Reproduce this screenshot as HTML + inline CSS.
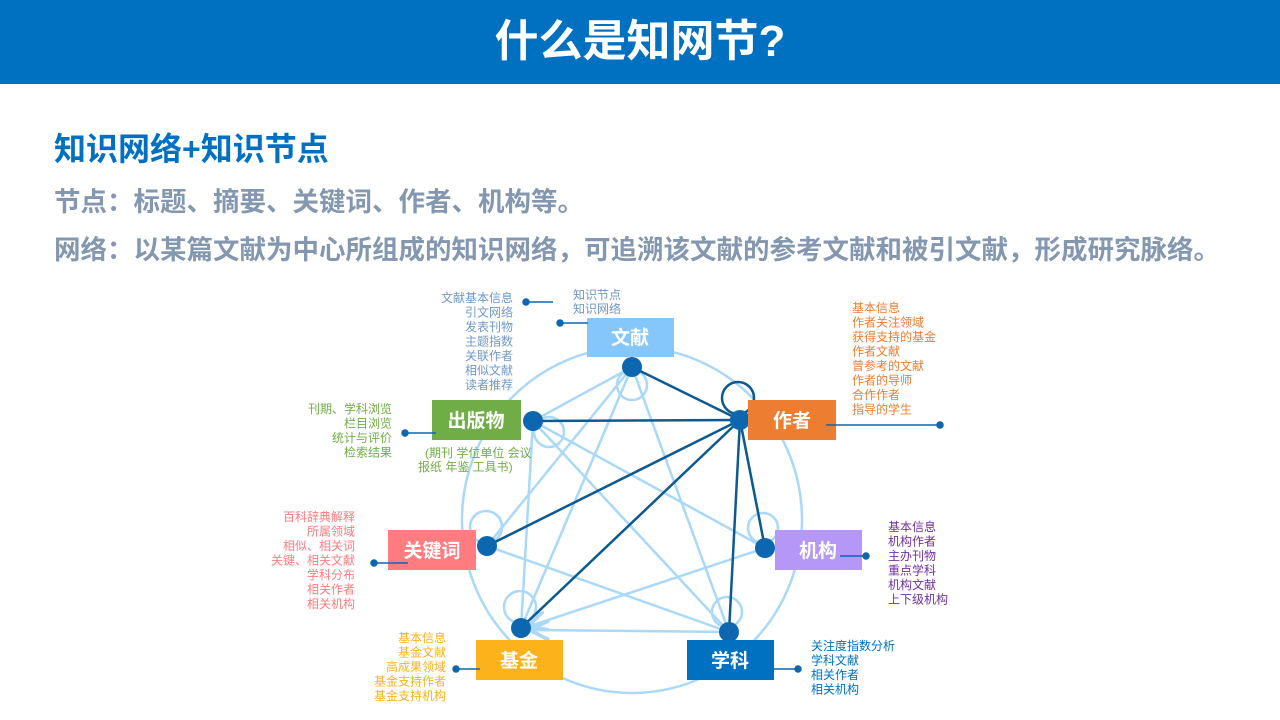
<!DOCTYPE html>
<html><head><meta charset="utf-8"><style>
body{margin:0;width:1280px;height:720px;background:#fff;position:relative;overflow:hidden;font-family:"Liberation Sans","Noto Sans CJK SC",sans-serif}
.hd{position:absolute;left:0;top:0;width:1280px;height:84px;background:#0070c0;color:#fff;font-size:44px;font-weight:bold;text-align:center;line-height:84px}
.t{position:absolute;left:54px;font-weight:bold;white-space:nowrap}
</style></head><body>
<div class="hd">什么是知网节?</div>
<div class="t" style="top:124px;font-size:32px;color:#0070c0">知识网络+知识节点</div>
<div class="t" style="top:180px;font-size:26.5px;color:#8497b0">节点：标题、摘要、关键词、作者、机构等。</div>
<div class="t" style="top:228px;font-size:26.5px;color:#8497b0">网络：以某篇文献为中心所组成的知识网络，可追溯该文献的参考文献和被引文献，形成研究脉络。</div>
<svg width="1280" height="720" style="position:absolute;left:0;top:0" font-family="Liberation Sans, Noto Sans CJK SC, sans-serif">
<defs><marker id="a" markerWidth="8" markerHeight="8" refX="7" refY="4" orient="auto"><path d="M0,0L8,4L0,8" fill="none" stroke="#a9d8f8" stroke-width="1.5"/></marker></defs>
<g stroke="#a9d8f8" stroke-width="2.5" fill="none">
<ellipse cx="632" cy="520" rx="170" ry="173"/>
<line x1="632" y1="367" x2="521" y2="628"/><line x1="632" y1="367" x2="729" y2="632"/>
<line x1="632" y1="367" x2="533" y2="421"/>
<line x1="533" y1="421" x2="765" y2="548"/><line x1="533" y1="421" x2="729" y2="632"/>
<line x1="533" y1="421" x2="521" y2="628"/><line x1="487" y1="546" x2="632" y2="367"/>
<line x1="487" y1="546" x2="729" y2="632"/>
<line x1="765" y1="548" x2="530" y2="626" marker-end="url(#a)"/>
<line x1="729" y1="632" x2="532" y2="630" marker-end="url(#a)"/>
<line x1="740" y1="420" x2="765" y2="548"/>
<circle cx="632" cy="385" r="15"/><circle cx="549" cy="432" r="15"/><circle cx="486" cy="527" r="16"/>
<circle cx="520" cy="607" r="16"/><circle cx="727" cy="612" r="15"/><circle cx="763" cy="528" r="15"/>
</g>
<g stroke="#0d5a8f" stroke-width="2.5" fill="none">
<line x1="740" y1="420" x2="632" y2="367"/><line x1="740" y1="420" x2="533" y2="421"/>
<line x1="740" y1="420" x2="487" y2="546"/><line x1="740" y1="420" x2="521" y2="628"/>
<line x1="740" y1="420" x2="729" y2="632"/><line x1="740" y1="420" x2="765" y2="548"/>
<circle cx="738" cy="398" r="16"/>
</g>
<g fill="#0d67b0">
<circle cx="632" cy="367" r="10"/><circle cx="740" cy="420" r="10"/><circle cx="533" cy="421" r="10"/>
<circle cx="487" cy="546" r="10"/><circle cx="765" cy="548" r="10"/><circle cx="521" cy="628" r="10"/><circle cx="729" cy="632" r="10"/>
</g>
<g font-size="19" font-weight="bold" fill="#fff" text-anchor="middle">
<rect x="587" y="318" width="87" height="39" fill="#86c7fb"/><text x="630" y="344">文献</text>
<rect x="748" y="400" width="88" height="40" fill="#ed7d31"/><text x="792" y="427">作者</text>
<rect x="432" y="400" width="89" height="40" fill="#70ad47"/><text x="476" y="427">出版物</text>
<rect x="388" y="530" width="88" height="40" fill="#ff7c80"/><text x="432" y="557">关键词</text>
<rect x="775" y="530" width="87" height="40" fill="#b597f8"/><text x="818" y="557">机构</text>
<rect x="476" y="640" width="87" height="40" fill="#fbb21b"/><text x="519" y="667">基金</text>
<rect x="687" y="640" width="87" height="40" fill="#0070c0"/><text x="730" y="667">学科</text>
</g>
<g stroke="#0d67b0" stroke-width="1.5" fill="#0d67b0">
<line x1="526" y1="302" x2="553" y2="302"/><circle cx="526" cy="302" r="3"/>
<line x1="560" y1="323" x2="588" y2="323"/><circle cx="560" cy="323" r="3"/>
<line x1="405" y1="433" x2="436" y2="433"/><circle cx="405" cy="433" r="3"/>
<line x1="826" y1="425" x2="940" y2="425"/><circle cx="940" cy="425" r="3"/>
<line x1="374" y1="563" x2="408" y2="563"/><circle cx="374" cy="563" r="3"/>
<line x1="840" y1="556" x2="866" y2="556"/><circle cx="866" cy="556" r="3"/>
<line x1="456" y1="669" x2="480" y2="669"/><circle cx="456" cy="669" r="3"/>
<line x1="772" y1="669" x2="798" y2="669"/><circle cx="798" cy="669" r="3"/>
</g>
<g font-size="12">
<g fill="#6f98c8" text-anchor="end"><text x="513" y="302">文献基本信息</text><text x="513" y="316.5">引文网络</text><text x="513" y="331">发表刊物</text><text x="513" y="345.5">主题指数</text><text x="513" y="360">关联作者</text><text x="513" y="374.5">相似文献</text><text x="513" y="389">读者推荐</text></g>
<g fill="#6f98c8"><text x="573" y="299">知识节点</text><text x="573" y="313">知识网络</text></g>
<g fill="#ed7d31"><text x="852" y="312">基本信息</text><text x="852" y="326.5">作者关注领域</text><text x="852" y="341">获得支持的基金</text><text x="852" y="355.5">作者文献</text><text x="852" y="370">曾参考的文献</text><text x="852" y="384.5">作者的导师</text><text x="852" y="399">合作作者</text><text x="852" y="413.5">指导的学生</text></g>
<g fill="#70ad47" text-anchor="end"><text x="392" y="413">刊期、学科浏览</text><text x="392" y="427.5">栏目浏览</text><text x="392" y="442">统计与评价</text><text x="392" y="456.5">检索结果</text></g>
<g fill="#70ad47"><text x="425" y="457">(期刊 学位单位 会议</text><text x="418" y="471">报纸 年鉴 工具书)</text></g>
<g fill="#ff7c80" text-anchor="end"><text x="355" y="521">百科辞典解释</text><text x="355" y="535.5">所属领域</text><text x="355" y="550">相似、相关词</text><text x="355" y="564.5">关键、相关文献</text><text x="355" y="579">学科分布</text><text x="355" y="593.5">相关作者</text><text x="355" y="608">相关机构</text></g>
<g fill="#7030a0"><text x="888" y="531">基本信息</text><text x="888" y="545.5">机构作者</text><text x="888" y="560">主办刊物</text><text x="888" y="574.5">重点学科</text><text x="888" y="589">机构文献</text><text x="888" y="603.5">上下级机构</text></g>
<g fill="#fbb21b" text-anchor="end"><text x="446" y="642">基本信息</text><text x="446" y="656.5">基金文献</text><text x="446" y="671">高成果领域</text><text x="446" y="685.5">基金支持作者</text><text x="446" y="700">基金支持机构</text></g>
<g fill="#0070c0"><text x="811" y="650">关注度指数分析</text><text x="811" y="664.5">学科文献</text><text x="811" y="679">相关作者</text><text x="811" y="693.5">相关机构</text></g>
</g>
</svg>
</body></html>
